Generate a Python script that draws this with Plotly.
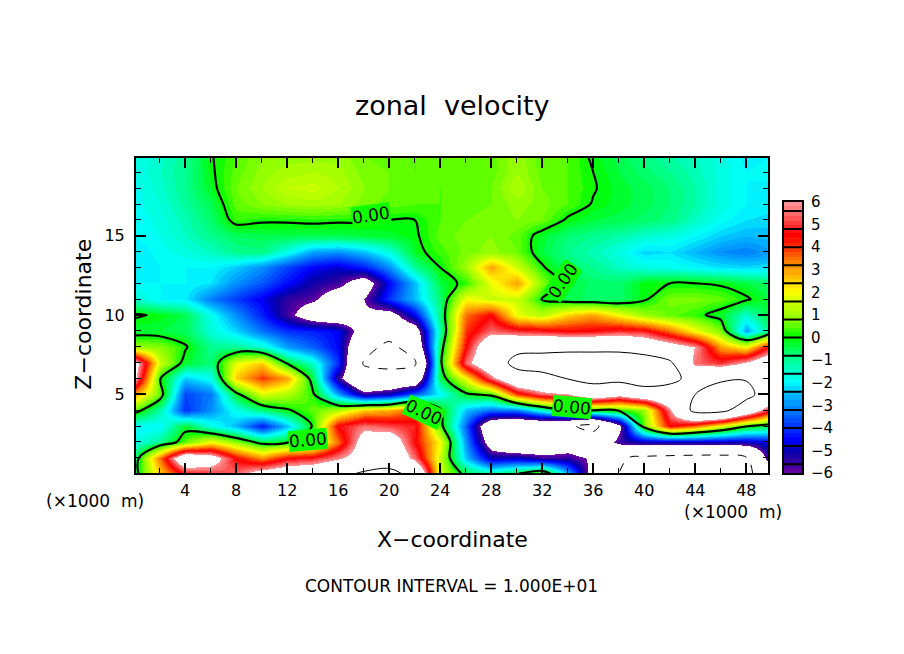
import numpy as np
import plotly.graph_objects as go

# grid of the field: x in km, z in km
x_km = list(range(0, 52, 2))
z_km = list(range(0, 21))

u_z00 = [-.5, 2.5, 4.6, 5, 5.5, 7, 7.5, 8, 9, 10.5, 11, 9, 1.5, -.3, -1, -.1, 1.2, -2.5, -7, -10, -11, -11.5, -12, -12, -11, -7]
u_z01 = [-.8, 3.5, 8, 7, 4.5, 3.2, 4.5, 4.8, 5.8, 7, 8, 5.5, 1.5, -2.5, -5, -4.8, -5.5, -5.5, -6.2, -9.7, -10.5, -10.8, -11, -11, -10.2, -4.5]
u_z02 = [-1.8, -1, .5, 2, .9, -.4, -.1, .6, 3.5, 7, 7.5, 4.5, 2, -3, -7, -8.5, -8, -7, -8, -5.5, -5, -5, -5, -5, -5, -4.5]
u_z03 = [-2, -2, -.3, -1.7, -2.6, -4.3, -2.5, .1, 4.6, 5.6, 5.2, 4.8, .4, -3.5, -8, -8.5, -8.5, -9.5, -11, -6.5, .6, 4.5, 3.5, 1.8, .1, -.6]
u_z04 = [.5, -1.2, -4, -3, -1.8, -.8, -.1, .5, 1.2, 2.5, 2.8, 3.8, .2, -2.5, -3.3, -3.2, -1.5, .05, .1, .2, .9, 5.8, 11, 11, 8, 4.5]
u_z05 = [3, .6, -3.8, -3.2, -.3, 1.7, 1.2, .2, -2.8, -5.5, -5, -3.5, -2, -.2, .3, 4, 5.5, 6, 8, 6.7, 8, 8.5, 10, 11, 11, 8]
u_z06 = [6.5, .1, -2.4, -1.8, 2.5, 4, 3, -.5, -5.5, -9, -8.5, -8, -.6, 2, 5.5, 8.5, 9, 10.1, 11, 11, 12, 10.8, 9, 9.7, 9.8, 9]
u_z07 = [7, 1.5, -.3, -.8, 1.8, 2.5, -.2, -1.5, -4, -10.2, -11, -10.5, -.3, 5.5, 8, 11, 11.5, 12, 12, 12, 12, 10.5, 5.5, 5, 6.2, 8]
u_z08 = [1, .8, .1, -1, -1, -1.5, -2.8, -3.5, -4.5, -8.5, -11, -8, -.6, 4.5, 8, 9, 9, 9, 9, 9, 8, 7, 6, 3, 2, 5]
u_z09 = [-.4, -.4, -.6, -1.6, -2.3, -3.3, -4, -4.2, -4.5, -7, -8, -7, -1.2, 4, 5.5, 5, 4.8, 4.5, 4.6, 5, 4.8, 3.5, 2, .7, -2.8, -.7]
u_z10 = [.1, -.1, -.5, -1.8, -3, -4.2, -5.6, -7, -7.5, -6.3, -6.8, -4.5, -.8, 3.5, 4.5, 1.8, 1.3, 2.5, 3, 2, 1, .5, .2, -.3, -1.5, -.1]
u_z11 = [-1.5, -2, -2.1, -3.2, -3.9, -4.6, -5.5, -5.8, -7, -6, -4, -2.5, -.8, 2, 1.5, 1.5, -.05, -.5, -.7, -.7, -.1, .7, .7, .5, .1, -.5]
u_z12 = [-2, -2, -2, -2.2, -3, -3.6, -4.4, -5.2, -5.6, -7, -4.5, -2.5, -.4, .2, 1.8, 3, .8, -.3, -.7, -.7, -.1, 0, 0, -.1, -.4, -.7]
u_z13 = [-2.2, -2, -2, -2, -2.4, -3, -3.8, -4.5, -4.8, -4.2, -3, -1, 0, 1, 3, 1.5, .1, -.8, -1, -1.4, -1.7, -1.8, -2, -2.2, -2.3, -2.2]
u_z14 = [-2.2, -1.9, -1.7, -1.4, -1, -.9, -1.8, -2.8, -3, -2.5, -1.7, -.2, .3, .7, .9, .6, -.4, -1, -1.3, -1.7, -2.3, -2.2, -2.6, -3, -3.2, -2.8]
u_z15 = [-2, -1.8, -1.4, -1, -.6, -.5, -.5, -.5, -.5, -.4, -.3, -.1, .5, .7, .8, .5, -.3, -.8, -1, -1.2, -1.5, -1.7, -2, -2.4, -2.6, -2.5]
u_z16 = [-2, -1.7, -1.3, -.7, .25, .1, .1, .15, .1, .1, 0, 0, .4, .6, .7, .8, .6, -.1, -.4, -.5, -.7, -.9, -1.4, -1.9, -2.2, -2.3]
u_z17 = [-1.9, -1.6, -1.1, -.5, .5, .8, 1, 1.1, 1, .7, .5, .4, .4, .5, .6, .9, .7, .4, -.05, -.3, -.5, -.8, -1.2, -1.7, -2, -2.1]
u_z18 = [-1.9, -1.5, -1, -.2, .6, 1, 1.4, 1.5, 1.2, .8, .6, .5, .4, .5, .6, 1.2, .6, .4, .05, -.3, -.5, -.8, -1.2, -1.7, -2, -2.1]
u_z19 = [-1.8, -1.4, -1, -.1, .5, .9, 1.1, 1.2, 1.1, .7, .6, .4, .5, .5, .5, 1, .5, .4, 0, -.4, -.7, -1, -1.3, -1.7, -2, -1.9]
u_z20 = [-1.8, -1.5, -1, -.05, .4, .8, .9, .9, .9, .6, .5, .4, .4, .5, .5, 1, .4, .4, -.1, -.5, -.9, -1.2, -1.4, -1.7, -2.1, -2]

u_rows = [u_z00, u_z01, u_z02, u_z03, u_z04, u_z05, u_z06, u_z07, u_z08, u_z09, u_z10,
          u_z11, u_z12, u_z13, u_z14, u_z15, u_z16, u_z17, u_z18, u_z19, u_z20]

# colour table anchors
table_vals = [-6, -5.5, -5, -4.5, -4, -3.5, -3, -2.5, -2, -1.5, -1, -.5, 0,
              .5, 1, 1.5, 2, 2.5, 3, 3.5, 4, 4.5, 5, 5.5, 6]
table_cols = ['#7000a0', '#3000a0', '#0000b0', '#0000ff', '#0030ff', '#0060ff', '#0090ff', '#00c0ff', '#00ffff',
              '#00ffd0', '#00ff90', '#00ff50', '#00ff00', '#60ff00', '#a0ff00', '#c8ff00', '#ffff00',
              '#ffd000', '#ffa000', '#ff7000', '#ff3000', '#ff0000', '#ff3030', '#ff6a6a', '#ff9aa0']
bar_lines = [-5.6, -4.8, -4, -3.2, -2.4, -1.6, -.8, 0, .8, 1.6, 2.4, 3.2, 4, 4.8, 5.6]
bar_ticks = [-6, -5, -4, -3, -2, -1, 0, 1, 2, 3, 4, 5, 6]
bar_text = ['\u22126', '\u22125', '\u22124', '\u22123', '\u22122', '\u22121', '0', '1', '2', '3', '4', '5', '6']

# where the 0.00 labels sit: x km, z km, angle
label_x = [18.6, 33.6, 13.6, 22.7, 34.3]
label_z = [16.3, 12.15, 2.1, 3.9, 4.2]
label_angle = [-8, -55, -5, 25, 5]

Z_LIMIT = 14
N_BANDS = 60


def color_at(v):
    rgb = [int(c[i:i + 2], 16) for c in table_cols for i in (1, 3, 5)]
    rgb = np.array(rgb).reshape(-1, 3)
    mixed = [int(np.interp(v, table_vals, rgb[:, k])) for k in range(3)]
    return 'rgb(%d,%d,%d)' % tuple(mixed)


def stepped_scale():
    """ White outside +-6, shaded bands inside """
    edges = [round((-6 + 12 * i / N_BANDS + Z_LIMIT) / (2 * Z_LIMIT), 6) for i in range(N_BANDS + 1)]
    scale = [[0, 'white'], [edges[0], 'white']]
    for i in range(N_BANDS):
        c = color_at(-6 + 12 * (i + 0.5) / N_BANDS)
        scale += [[edges[i], c], [edges[i + 1], c]]
    scale += [[edges[-1], 'white'], [1, 'white']]
    return scale


scale = stepped_scale()
fig = go.Figure()
fig.add_trace(go.Heatmap(x=x_km, y=z_km, z=u_rows, zmin=-Z_LIMIT, zmax=Z_LIMIT, zsmooth='best',
                         colorscale=scale, showscale=False, hoverinfo='skip'))


def add_lines(level, width, dash):
    fig.add_trace(go.Contour(x=x_km, y=z_km, z=u_rows, autocontour=False, showscale=False,
                             contours=dict(start=level, end=level, size=1, coloring='none'),
                             line=dict(color='black', width=width, dash=dash), hoverinfo='skip'))


add_lines(0, 2.2, 'solid')
add_lines(10, 1, 'solid')
add_lines(-10, 1, 'dash')

# colour bar as its own small axes
bar_y = np.linspace(-6, 6, 241).tolist()
fig.add_trace(go.Heatmap(x=[0, 1], y=bar_y, z=[[v, v] for v in bar_y], zmin=-Z_LIMIT, zmax=Z_LIMIT,
                         colorscale=scale, showscale=False, xaxis='x2', yaxis='y2', hoverinfo='skip'))
line_x, line_y = [], []
for v in bar_lines:
    line_x += [0, 1, None]
    line_y += [v, v, None]
fig.add_trace(go.Scatter(x=line_x, y=line_y, mode='lines', line=dict(color='black', width=2),
                         xaxis='x2', yaxis='y2', hoverinfo='skip', showlegend=False))

W, H = 904, 654
font = 'DejaVu Sans'


# the page shifts and squeezes the figure a little, these undo it
def fx(px):
    return (px - 8) / W


def fy(py):
    return 1 - (py - 15.6) / 0.975 / H


fig.update_layout(
    width=W, height=H, margin=dict(l=0, r=0, t=0, b=0), paper_bgcolor='white', plot_bgcolor='white',
    showlegend=False, font=dict(family=font, color='black', size=16),
    xaxis=dict(domain=[fx(136), fx(768)], range=[0.15, 49.7], tickvals=list(range(4, 50, 4)), ticks='inside', ticklen=10,
               tickwidth=2, tickcolor='black', minor=dict(tickvals=list(range(2, 50, 4)), ticks='inside', ticklen=5, tickcolor='black', tickwidth=1),
               showline=True, linecolor='black', linewidth=2, mirror='ticks', showgrid=False, zeroline=False,
               tickfont=dict(size=16), ticklabelstandoff=2),
    yaxis=dict(domain=[fy(473), fy(157)], range=[0.03, 19.9], tickvals=[5, 10, 15], ticks='inside', ticklen=10,
               tickwidth=2, tickcolor='black', minor=dict(tickvals=[v for v in range(1, 20) if v % 5], ticks='inside', ticklen=5, tickcolor='black', tickwidth=1),
               showline=True, linecolor='black', linewidth=2, mirror='ticks', showgrid=False, zeroline=False,
               tickfont=dict(size=16), ticklabelstandoff=6),
    xaxis2=dict(domain=[fx(784), fx(802)], range=[0, 1], showticklabels=False, ticks='', showline=True, linecolor='black',
                linewidth=2, mirror=True, showgrid=False, zeroline=False, anchor='y2'),
    yaxis2=dict(domain=[fy(473), fy(201)], range=[-6, 6], side='right', tickvals=bar_ticks, ticktext=bar_text,
                ticks='', showline=True, linecolor='black', linewidth=2, mirror=True, showgrid=False, zeroline=False,
                anchor='x2', tickfont=dict(size=15), ticklabelstandoff=4),
)


def label(text, px, py, size, angle=0):
    fig.add_annotation(text=text, x=fx(px), y=fy(py), xref='paper', yref='paper', showarrow=False,
                       font=dict(size=size), textangle=angle, xanchor='center', yanchor='middle')


label('zonal  velocity', 452, 104, 27)
label('X\u2212coordinate', 452, 539, 22)
label('Z\u2212coordinate', 84, 314, 22, -90)
label('CONTOUR INTERVAL = 1.000E+01', 451, 586, 17)
label('(\u00d71000  m)', 95, 501, 17)
label('(\u00d71000  m)', 733, 512, 17)

# contour labels sit on the zero line, so the backing is the zero colour
for lx, lz, ang in zip(label_x, label_z, label_angle):
    fig.add_annotation(text='0.00', x=lx, y=lz, xref='x', yref='y', showarrow=False, textangle=ang,
                       font=dict(size=17), bgcolor='#10ff00', borderpad=0)

fig.write_html("out.html")
